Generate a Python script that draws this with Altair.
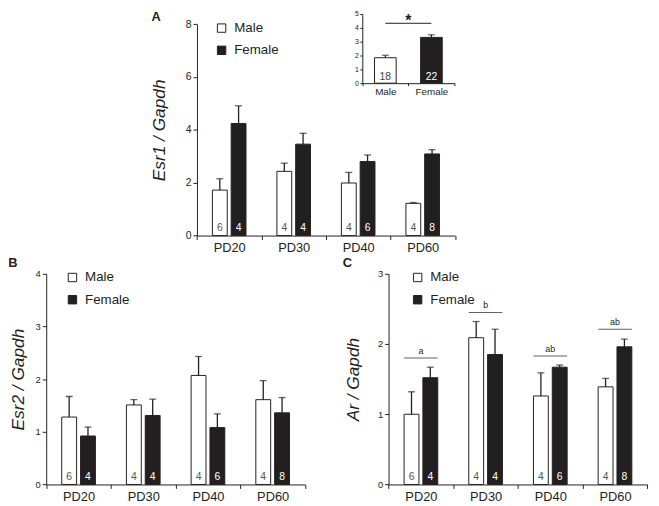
import altair as alt
import pandas as pd

FONT = "Liberation Sans"
INK = "#231f20"
W, H = 651, 498

# ---------------- data ----------------
ages = ["PD20", "PD30", "PD40", "PD60"]
sexes = ["Male", "Female"]
n_male = [6, 4, 4, 4]
n_female = [4, 4, 6, 8]

esr1_male = [1.72, 2.43, 1.99, 1.22]
esr1_male_sem = [0.43, 0.31, 0.40, 0.03]
esr1_female = [4.24, 3.46, 2.80, 3.09]
esr1_female_sem = [0.67, 0.41, 0.25, 0.16]

inset_groups = ["Male", "Female"]
inset_mean = [1.84, 3.31]
inset_sem = [0.18, 0.19]
inset_n = [18, 22]
inset_sig_y = [4.33]
inset_sig_mark = ["*"]

esr2_male = [1.28, 1.51, 2.07, 1.61]
esr2_male_sem = [0.39, 0.10, 0.36, 0.36]
esr2_female = [0.92, 1.31, 1.08, 1.36]
esr2_female_sem = [0.17, 0.31, 0.26, 0.29]

ar_male = [1.00, 2.09, 1.26, 1.39]
ar_male_sem = [0.32, 0.23, 0.33, 0.12]
ar_female = [1.52, 1.85, 1.67, 1.96]
ar_female_sem = [0.15, 0.36, 0.03, 0.11]
ar_letters = ["a", "b", "ab", "ab"]
ar_letter_y = [1.80, 2.45, 1.83, 2.21]


def panel(male, msem, female, fsem, ydom, yvals, yrange, xrange, ytitle,
          title_x, ylab_fs, leg_xy, letter, letter_xy, sig=None):
    rows = []
    for i, a in enumerate(ages):
        rows.append({"age": a, "sex": "Male", "mean": male[i],
                     "upper": male[i] + msem[i], "n": str(n_male[i])})
        rows.append({"age": a, "sex": "Female", "mean": female[i],
                     "upper": female[i] + fsem[i], "n": str(n_female[i])})
    df = pd.DataFrame(rows)

    xs = alt.Scale(domain=ages, range=xrange, paddingInner=0, paddingOuter=0)
    ys = alt.Scale(domain=ydom, range=yrange, nice=False)
    offs = alt.Scale(domain=sexes, paddingInner=0.21, paddingOuter=0.824)
    xax = alt.Axis(orient="bottom", offset=yrange[0] - H, title=None,
                   tickBand="extent", labelAngle=0, labelFontSize=13,
                   labelPadding=2, tickSize=4, labelColor=INK,
                   domainColor=INK, tickColor=INK, grid=False,
                   labelFont=FONT)
    yax = alt.Axis(orient="left", offset=-xrange[0], values=yvals,
                   title=ytitle, titleX=title_x, titleBaseline="middle",
                   titleFontStyle="italic", titleFontWeight="normal",
                   titleFontSize=17.5, titleColor=INK, titleFont=FONT,
                   labelFontSize=ylab_fs, labelColor="#222222",
                   labelPadding=2, tickSize=4, domainColor=INK,
                   tickColor=INK, grid=False, labelFont=FONT)
    X = alt.X("age:N", scale=xs, axis=xax, sort=ages)
    XO = alt.XOffset("sex:N", scale=offs, sort=sexes)

    base = alt.Chart(df)
    bars = base.mark_bar(stroke=INK, strokeWidth=1).encode(
        x=X, xOffset=XO,
        y=alt.Y("mean:Q", scale=ys, axis=yax),
        fill=alt.Fill("sex:N", sort=sexes,
                      scale=alt.Scale(domain=sexes, range=["white", INK]),
                      legend=alt.Legend(orient="none", legendX=leg_xy[0],
                                        legendY=leg_xy[1], title=None,
                                        symbolType="square", symbolSize=72,
                                        symbolStrokeColor=INK,
                                        symbolStrokeWidth=1,
                                        labelFontSize=13.5, labelFont=FONT,
                                        labelColor=INK, rowPadding=7.5,
                                        labelOffset=6)),
    )
    err = base.mark_rule(color=INK, strokeWidth=1.3).encode(
        x=X, xOffset=XO, y=alt.Y("mean:Q", scale=ys, axis=yax), y2="upper:Q")
    caps = base.mark_tick(color=INK, thickness=1.3, size=7,
                          orient="horizontal").encode(
        x=X, xOffset=XO, y=alt.Y("upper:Q", scale=ys, axis=yax))
    nums = base.mark_text(font=FONT, fontSize=10.5, baseline="middle",
                          dy=-7.5).encode(
        x=X, xOffset=XO, y=alt.YDatum(0, scale=ys, axis=yax), text="n:N",
        color=alt.Color("sex:N", scale=alt.Scale(domain=sexes,
                                                  range=["#555555", "#ffffff"]),
                        legend=None))
    lab = alt.Chart(pd.DataFrame({"t": [letter]})).mark_text(
        font=FONT, fontSize=13, fontWeight="bold", color=INK,
        align="center", baseline="middle").encode(
        x=alt.value(letter_xy[0]), y=alt.value(letter_xy[1]), text="t:N")
    layers = [bars, err, caps, nums, lab]
    if sig is not None:
        sdf = pd.DataFrame({"age": ages, "y": sig[1], "lab": sig[0]})
        layers.append(alt.Chart(sdf).mark_tick(
            orient="horizontal", size=34, thickness=1, color=INK).encode(
            x=X, y=alt.Y("y:Q", scale=ys, axis=yax)))
        layers.append(alt.Chart(sdf).mark_text(
            font=FONT, fontSize=9, baseline="bottom", dy=-2,
            color=INK).encode(
            x=X, y=alt.Y("y:Q", scale=ys, axis=yax), text="lab:N"))
    return alt.layer(*layers)


panelA = panel(esr1_male, esr1_male_sem, esr1_female, esr1_female_sem,
               [0, 8], [0, 2, 4, 6, 8], [227.3, 13.3], [191.3, 452.5],
               "Esr1 / Gapdh", -37.6, 10.5, (209.5, 10.5), "A", (150, 6))
panelB = panel(esr2_male, esr2_male_sem, esr2_female, esr2_female_sem,
               [0, 4], [0, 1, 2, 3, 4], [479.3, 266], [38.7, 300.7],
               "Esr2 / Gapdh", -27.7, 9.5, (58.5, 263), "B", (5, 255))
panelC = panel(ar_male, ar_male_sem, ar_female, ar_female_sem,
               [0, 3], [0, 1, 2, 3], [479.3, 266], [385.3, 647.3],
               "Ar / Gapdh", -35, 9.5, (408, 263), "C", (343.7, 255.5),
               sig=(ar_letters, ar_letter_y))

# ---------------- inset ----------------
idf = pd.DataFrame({"grp": inset_groups, "mean": inset_mean,
                    "upper": [m + s for m, s in zip(inset_mean, inset_sem)],
                    "n": [str(v) for v in inset_n]})
ixs = alt.Scale(domain=inset_groups, range=[358.7, 452.0],
                paddingInner=0, paddingOuter=0)
iys = alt.Scale(domain=[0, 5], range=[73, 3], nice=False)
ixax = alt.Axis(orient="bottom", offset=73 - H, title=None, tickBand="extent",
                labelAngle=0, labelFontSize=10, labelPadding=1, tickSize=2.5,
                labelColor=INK, domainColor=INK, tickColor=INK, grid=False,
                labelFont=FONT)
iyax = alt.Axis(orient="left", offset=-358.7, values=[0, 1, 2, 3, 4, 5],
                title=None, labelFontSize=7, labelColor="#222222",
                labelPadding=1.5, tickSize=2.5, domainColor=INK,
                tickColor=INK, grid=False, labelFont=FONT)
IX = alt.X("grp:N", scale=ixs, axis=ixax, sort=inset_groups)
ibase = alt.Chart(idf)
ibars = ibase.mark_bar(stroke=INK, strokeWidth=1,
                       width=alt.RelativeBandSize(0.47)).encode(
    x=IX, y=alt.Y("mean:Q", scale=iys, axis=iyax),
    fill=alt.Fill("grp:N", scale=alt.Scale(domain=inset_groups,
                                           range=["white", INK]),
                  legend=None))
ierr = ibase.mark_rule(color=INK, strokeWidth=1.2).encode(
    x=IX, y=alt.Y("mean:Q", scale=iys, axis=iyax), y2="upper:Q")
icaps = ibase.mark_tick(color=INK, thickness=1.2, size=7,
                        orient="horizontal").encode(
    x=IX, y=alt.Y("upper:Q", scale=iys, axis=iyax))
inums = ibase.mark_text(font=FONT, fontSize=10.5, baseline="middle",
                        dy=-6).encode(
    x=IX, y=alt.YDatum(0, scale=iys, axis=iyax), text="n:N",
    color=alt.Color("grp:N", scale=alt.Scale(domain=inset_groups,
                                              range=["#444444", "#ffffff"]),
                    legend=None))
sdf = pd.DataFrame({"a": ["Male"], "b": ["Female"], "y": inset_sig_y,
                    "mark": inset_sig_mark})
isig = alt.Chart(sdf).mark_rule(color=INK, strokeWidth=1).encode(
    x=alt.X("a:N", scale=ixs, axis=ixax), x2="b:N",
    y=alt.Y("y:Q", scale=iys, axis=iyax))
istar = alt.Chart(sdf).mark_text(font=FONT, fontSize=16, fontWeight="bold",
                                 baseline="alphabetic", dy=2.8,
                                 color=INK).encode(
    x=alt.X("b:N", bandPosition=0, scale=ixs, axis=ixax),
    y=alt.Y("y:Q", scale=iys, axis=iyax), text="mark:N")
inset = alt.layer(ibars, ierr, icaps, inums, isig, istar)

chart = alt.layer(panelA, inset, panelB, panelC).resolve_scale(
    x="independent", y="independent", xOffset="independent",
    fill="independent", color="independent"
).resolve_axis(x="independent", y="independent").resolve_legend(
    fill="independent", color="independent"
).properties(
    width=W, height=H, padding=0, autosize=alt.AutoSizeParams(type="none")
).configure_view(stroke=None).configure_text(font=FONT)

chart.save("out.html", embed_options={"renderer": "svg", "actions": False})
